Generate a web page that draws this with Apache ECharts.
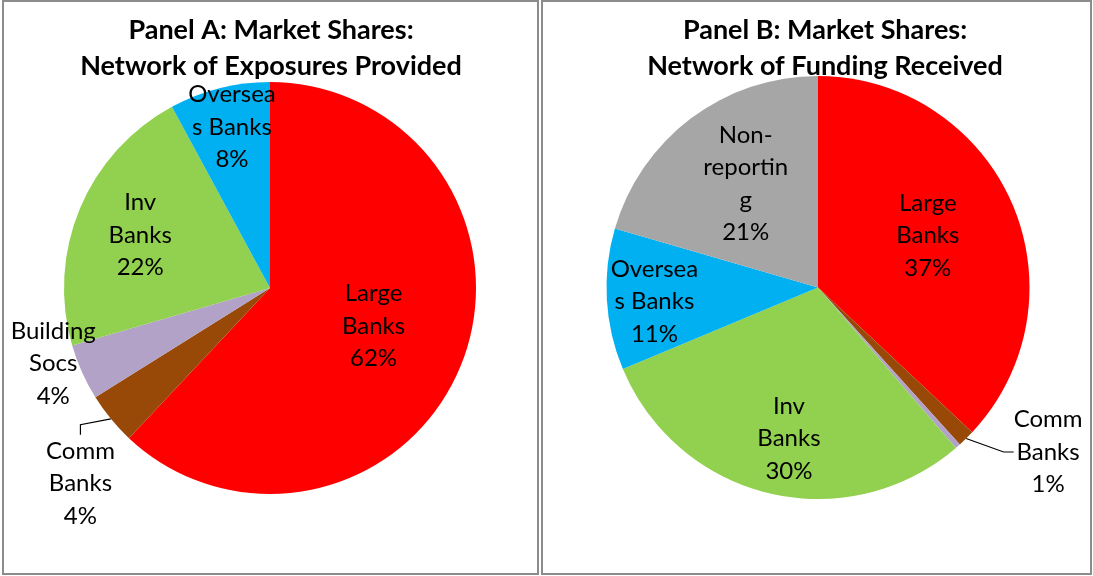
<!DOCTYPE html>
<html>
<head>
<meta charset="utf-8">
<script src="https://cdn.jsdelivr.net/npm/echarts@6/dist/echarts.min.js"></script>
<style>
body{margin:0;background:#fff;}
.panel{position:absolute;top:0;height:575px;border:2px solid #8c8c8c;box-sizing:border-box;}
.panel div{width:100%;height:100%;}
</style>
</head>
<body>
<div class="panel" style="left:2px;width:537px"><div id="chartA"></div></div>
<div class="panel" style="left:541px;width:551px"><div id="chartB"></div></div>
<script>
// Panel A: exposures provided
var namesA = ['Large Banks', 'Comm Banks', 'Building Socs', 'Inv Banks', 'Overseas Banks'];
var labelsA = ['Large\nBanks', 'Comm\nBanks', 'Building\nSocs', 'Inv\nBanks', 'Oversea\ns Banks'];
var valuesA = [62.0, 4.1, 4.4, 21.6, 7.9];

// Panel B: funding received
var namesB = ['Large Banks', 'Comm Banks', 'Building Socs', 'Inv Banks', 'Overseas Banks', 'Non-reporting'];
var labelsB = ['Large\nBanks', 'Comm\nBanks', '', 'Inv\nBanks', 'Oversea\ns Banks', 'Non-\nreportin\ng'];
var valuesB = [37.0, 1.3, 0.4, 30.0, 10.8, 20.5];

var colors = ['#ff0000', '#984807', '#b3a2c7', '#92d050', '#00b0f0', '#a6a6a6'];

// label shift from the default "inside" spot (half radius, mid angle)
var offsetsA = [[5, -1], [-110, 130], [-120, 32], [-32, -12], [-12, -58]];
var offsetsB = [[10, -9], [156, 89], [0, 0], [-4, 45], [-55, 8], [-7, -17]];

var FONT = 'Lato';

function insidePoint(values, i, center, radius) {
	var total = 0, start = 0;
	for (var k = 0; k < values.length; k++) {
		total += values[k];
		if (k < i) start += values[k];
	}
	var mid = (start + values[i] / 2) / total * 2 * Math.PI;
	return [center[0] + radius / 2 * Math.sin(mid), center[1] - radius / 2 * Math.cos(mid)];
}

function drawPie(id, title, names, labels, values, offsets, outside, center, radius, titleX) {
	var chart = echarts.init(document.getElementById(id));
	var data = [];
	for (var i = 0; i < values.length; i++) {
		var item = {
			name: names[i],
			value: values[i],
			itemStyle: { color: colors[i] }
		};
		if (!labels[i]) {
			item.label = { show: false };
			item.labelLine = { show: false };
		} else if (outside.indexOf(i) >= 0) {
			item.label = { position: 'outside' };
			item.labelLine = { show: true };
		} else {
			item.label = { position: 'inside', offset: offsets[i] };
			item.labelLine = { show: false };
		}
		data.push(item);
	}
	chart.setOption({
		animation: false,
		title: {
			text: title,
			left: titleX,
			textAlign: 'center',
			top: 10,
			padding: 0,
			textStyle: { fontFamily: FONT, fontWeight: 'bold', fontSize: 27, lineHeight: 36, color: '#000' }
		},
		series: [{
			type: 'pie',
			center: center,
			radius: radius,
			startAngle: 90,
			clockwise: true,
			avoidLabelOverlap: false,
			emphasis: { disabled: true },
			data: data,
			label: {
				color: '#000',
				fontFamily: FONT,
				fontSize: 24,
				lineHeight: 32.5,
				align: 'center',
				formatter: function (p) {
					return labels[p.dataIndex] + '\n' + Math.round(p.percent) + '%';
				}
			},
			labelLine: { length: 10, length2: 10, lineStyle: { color: '#000', width: 1.2 } },
			labelLayout: function (p) {
				if (outside.indexOf(p.dataIndex) < 0) return {};
				var pt = insidePoint(values, p.dataIndex, center, radius);
				var o = offsets[p.dataIndex];
				return { x: pt[0] + o[0], y: pt[1] + o[1], align: 'center', verticalAlign: 'middle' };
			}
		}]
	});
}

drawPie('chartA', 'Panel A: Market Shares:\nNetwork of Exposures Provided',
	namesA, labelsA, valuesA, offsetsA, [1], [266, 286], 206, 267);
drawPie('chartB', 'Panel B: Market Shares:\nNetwork of Funding Received',
	namesB, labelsB, valuesB, offsetsB, [1], [275, 285.5], 211.5, 282);
</script>
</body>
</html>
